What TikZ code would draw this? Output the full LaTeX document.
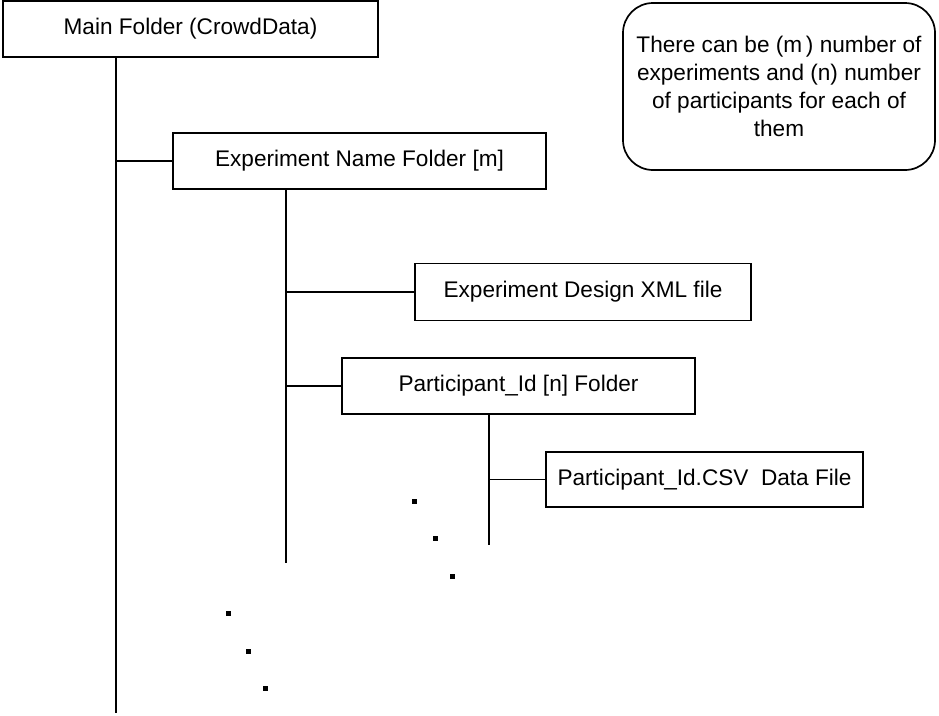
\documentclass[tikz,border=0pt]{standalone}
\usepackage{fontspec}
\setmainfont{Liberation Sans}
\begin{document}
\begin{tikzpicture}[x=1pt,y=-1pt,
  fbox/.style={draw, line width=1.7pt, inner sep=0pt, font=\fontsize{22.6}{27}\selectfont},
  conn/.style={line width=1.7pt},
  dotsq/.style={fill=black}]
\useasboundingbox (0,0) rectangle (939,715);
\node[fbox, minimum width=375, minimum height=56] (main) at (190.5,29) {Main Folder (CrowdData)};
\node[fbox, minimum width=373, minimum height=56] (exp) at (359.5,161) {Experiment Name Folder [m]};
\node[fbox, minimum width=336, minimum height=57] (xml) at (583,292) {Experiment Design XML file};
\node[fbox, minimum width=353, minimum height=56] (part) at (518.5,386) {Participant\_Id [n] Folder};
\node[fbox, minimum width=317, minimum height=55] (csv) at (704.5,479.5) {Participant\_Id.CSV\ \ Data File};
\node[fbox, rounded corners=30pt, minimum width=312, minimum height=167, align=center,
  font=\fontsize{22.6}{28}\selectfont] (note) at (779,86.5)
  {There can be (m\,) number of\\experiments and (n) number\\of participants for each of\\them};
\coordinate (e1) at (116,713);
\coordinate (e2) at (286,563);
\coordinate (e3) at (489,545);
\draw[conn] (main.south -| e1) -- (e1);
\draw[conn] (exp.west -| e1) -- (exp.west);
\draw[conn] (exp.south -| e2) -- (e2);
\draw[conn] (xml.west -| e2) -- (xml.west);
\draw[conn] (part.west -| e2) -- (part.west);
\draw[conn] (part.south -| e3) -- (e3);
\draw[conn] (csv.west -| e3) -- (csv.west);
\foreach \p in {(414,501),(435,538),(452,576),(228,613),(248,651),(265,688)}
  \fill[dotsq] \p ++(-2.5,-2.5) rectangle ++(5,5);
\end{tikzpicture}
\end{document}
